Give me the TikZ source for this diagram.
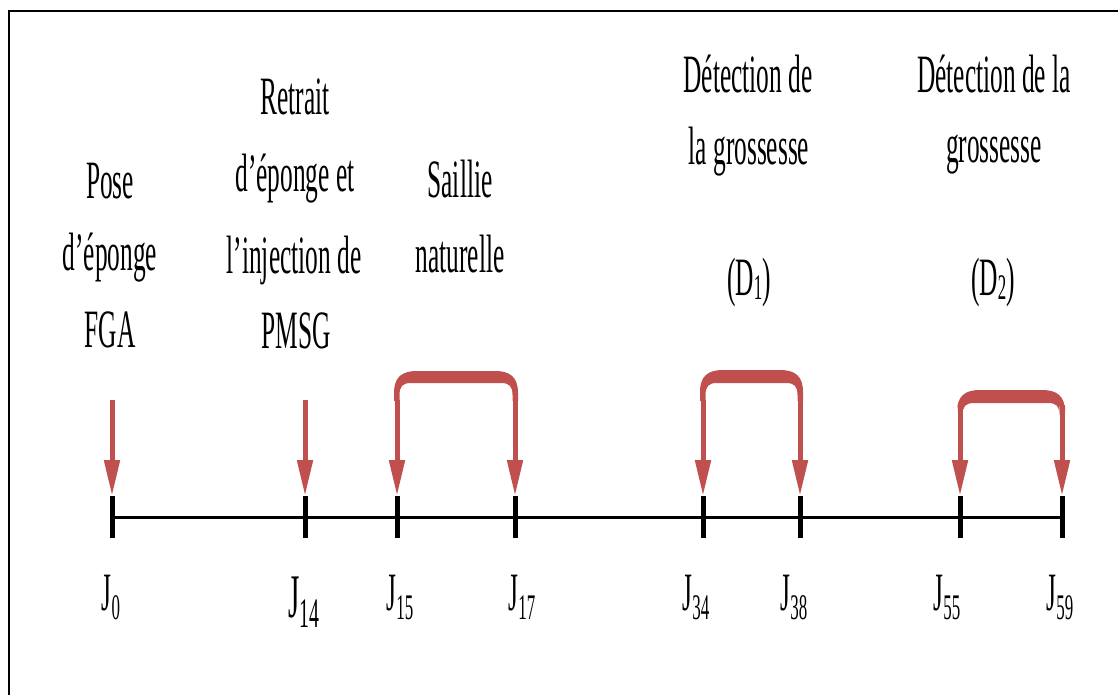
\documentclass[tikz,border=0pt]{standalone}
\usepackage{fontspec}
\setmainfont{Liberation Serif}[FakeStretch=0.47]
\usetikzlibrary{arrows.meta}
\definecolor{arrowred}{HTML}{C0504D}
\newcommand\bigfont{\fontsize{54}{60}\selectfont}
\newcommand\subfont{\fontsize{36}{40}\selectfont}
\newcommand\jlab[1]{J\raisebox{-9pt}{\subfont #1}}
\newcommand\dlab[1]{(D\raisebox{-4pt}{\subfont #1})}
\tikzset{
  txt/.style={anchor=base, inner sep=0pt, font=\bigfont},
  jtxt/.style={anchor=base, inner sep=0pt, font=\bigfont},
  axis/.style={line width=3pt, black},
  tickmark/.style={line width=5pt, black},
  redarrow/.style={line width=5pt, arrowred, -{Triangle[width=15pt,length=36pt]}},
  frame/.style={line width=2pt, black}
}
\begin{document}
\begin{tikzpicture}[x=1pt,y=-1pt]
\useasboundingbox (0,0) rectangle (1118,695);
\draw[frame] (9,11) rectangle (1130,705);
% timeline coordinates
\foreach \n/\x in {0/112,14/305,15/397,17/515,34/703,38/800,55/960,59/1062}{
  \coordinate (t\n) at (\x,517);
  \coordinate (u\n) at (\x,496);
  \coordinate (d\n) at (\x,538);
}
\draw[axis] (t0) -- (t59);
\foreach \n in {0,14,15,17,34,38,55,59}{
  \draw[tickmark] (u\n) -- (d\n);
}
% single arrows
\coordinate (a0) at (112,400);
\coordinate (a14) at (305,400);
\draw[redarrow] (a0) -- (u0);
\draw[redarrow] (a14) -- (u14);
% brackets
\newcommand\bracketband[5]{% L R T th ys
  \fill[arrowred] (#1-3,#5) -- (#1-3,#3+22) .. controls (#1-3,#3+6) and (#1+5,#3) .. (#1+20,#3)
    -- (#2-20,#3) .. controls (#2-5,#3) and (#2+3,#3+6) .. (#2+3,#3+22) -- (#2+3,#5)
    -- (#2-2.5,#5) -- (#2-2.5,#3+#4+12) .. controls (#2-2.5,#3+#4+3) and (#2-6,#3+#4) .. (#2-14,#3+#4)
    -- (#1+14,#3+#4) .. controls (#1+6,#3+#4) and (#1+2.5,#3+#4+3) .. (#1+2.5,#3+#4+12) -- (#1+2.5,#5) -- cycle;
}
\bracketband{397}{515}{371}{12}{401}
\bracketband{703}{800}{370}{13}{401}
\bracketband{960}{1062}{390}{13}{406}
\coordinate (b15) at (397,400);
\coordinate (b17) at (515,400);
\coordinate (b34) at (703,400);
\coordinate (b38) at (800,400);
\coordinate (b55) at (960,405);
\coordinate (b59) at (1062,405);
\foreach \n in {15,17,34,38,55,59}{
  \draw[redarrow] (b\n) -- (u\n);
}
% texts
\node[txt] (p1) at (110,198) {Pose};
\node[txt] (p2) at (110,270) {d’éponge};
\node[txt] (p3) at (110,347) {FGA};
\node[txt] (r1) at (295,115) {Retrait};
\node[txt] (r2) at (295,192) {d’éponge et};
\node[txt] (r3) at (294,273) {l’injection de};
\node[txt] (r4) at (296,348) {PMSG};
\node[txt] (s1) at (460,197) {Saillie};
\node[txt] (s2) at (460,272) {naturelle};
\node[txt] (da1) at (748,93) {Détection de};
\node[txt] (da2) at (749,165) {la grossesse};
\node[txt] (da3) at (749,295) {\dlab{1}};
\node[txt] (db1) at (994,93) {Détection de la};
\node[txt] (db2) at (994,163) {grossesse};
\node[txt] (db3) at (993,295) {\dlab{2}};
% day labels
\node[jtxt] (j0) at (111,610) {\jlab{0}};
\node[jtxt, font=\fontsize{62}{66}\selectfont] (j14) at (304,617) {J\raisebox{-10pt}{\fontsize{42}{44}\selectfont 14}};
\node[jtxt] (j15) at (400,610) {\jlab{15}};
\node[jtxt] (j17) at (522,610) {\jlab{17}};
\node[jtxt] (j34) at (696,610) {\jlab{34}};
\node[jtxt] (j38) at (794,610) {\jlab{38}};
\node[jtxt] (j55) at (947,610) {\jlab{55}};
\node[jtxt] (j59) at (1060,610) {\jlab{59}};
\end{tikzpicture}
\end{document}
